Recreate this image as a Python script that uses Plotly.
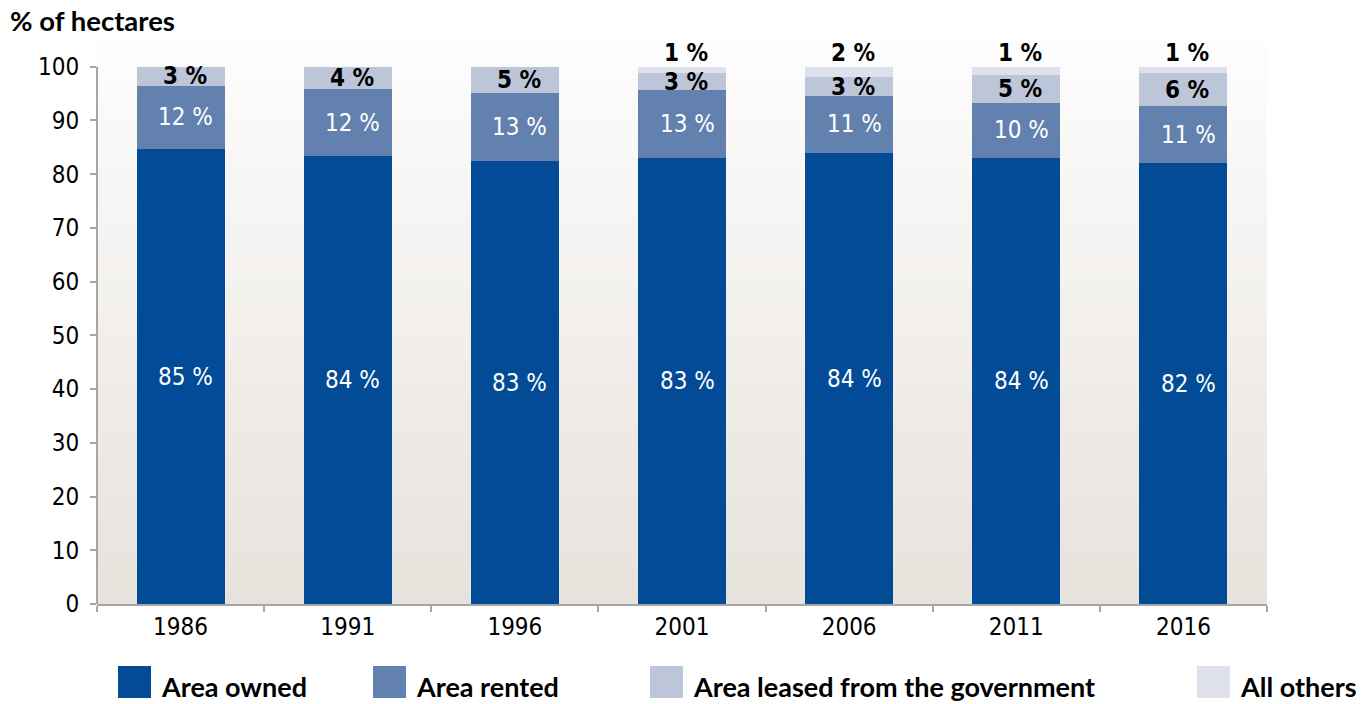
import plotly.graph_objects as go

years = ["1986", "1991", "1996", "2001", "2006", "2011", "2016"]
owned = [84.6, 83.4, 82.4, 83.1, 83.9, 83.1, 82.0]
rented = [11.9, 12.4, 12.7, 12.6, 10.7, 10.1, 10.75]
leased = [3.5, 4.2, 4.9, 3.05, 3.4, 5.25, 6.0]
others = [0.0, 0.0, 0.0, 1.25, 2.0, 1.55, 1.25]

owned_lbl = ["85 %", "84 %", "83 %", "83 %", "84 %", "84 %", "82 %"]
rented_lbl = ["12 %", "12 %", "13 %", "13 %", "11 %", "10 %", "11 %"]
leased_lbl = ["3 %", "4 %", "5 %", "3 %", "3 %", "5 %", "6 %"]
others_lbl = ["", "", "", "1 %", "2 %", "1 %", "1 %"]

series_names = ["Area owned", "Area rented", "Area leased from the government", "All others"]
colors = ["#034b97", "#6381ae", "#bcc6d8", "#dee1eb"]

NARROW = "DejaVu Sans Condensed, DejaVu Sans, sans-serif"
BOLDF = "Lato, Open Sans, sans-serif"

W, H = 1366, 704
ML, MR, MT, MB = 97, 99, 42, 100
PW, PH = W - ML - MR, H - MT - MB
YMAX = 104.6

def px2x(px):
    return (px - ML) / PW

def px2y(py):
    return (H - MB - py) / PH

fig = go.Figure()
for name, vals, col in zip(series_names, [owned, rented, leased, others], colors):
    fig.add_trace(go.Bar(x=years, y=vals, name=name, marker=dict(color=col, line=dict(width=0)),
                         showlegend=False, hoverinfo="skip"))

shapes = []
# gradient background
N = 60
top = (254, 253, 253)
bot = (230, 226, 220)
for i in range(N):
    t = (i + 0.5) / N
    c = tuple(int(round(top[k] + (bot[k] - top[k]) * t)) for k in range(3))
    shapes.append(dict(type="rect", xref="paper", yref="paper", x0=0, x1=1,
                       y0=1 - (i + 1) / N, y1=1 - i / N + 0.001, layer="below",
                       line=dict(width=0), fillcolor="rgb(%d,%d,%d)" % c))
# y axis line (0 to 100)
shapes.append(dict(type="line", xref="paper", yref="y", x0=0, x1=0, y0=0, y1=100,
                   line=dict(color="#a6a6a6", width=2), layer="above"))

LBL = 24
annotations = []
for i, y in enumerate(years):
    o, r, l = owned[i], rented[i], leased[i]
    annotations.append(dict(x=i, y=o / 2, text=owned_lbl[i], showarrow=False, xshift=5,
                            font=dict(family=NARROW, size=LBL, color="white")))
    annotations.append(dict(x=i, y=o + r / 2, text=rented_lbl[i], showarrow=False, xshift=5,
                            font=dict(family=NARROW, size=LBL, color="white")))
    annotations.append(dict(x=i, y=o + r + l / 2, text="<b>%s</b>" % leased_lbl[i], showarrow=False, xshift=4,
                            font=dict(family=NARROW, size=LBL, color="black")))
    if others_lbl[i]:
        annotations.append(dict(x=i, y=o + r + l + others[i], text="<b>%s</b>" % others_lbl[i],
                                showarrow=False, xshift=4, yshift=14,
                                font=dict(family=NARROW, size=LBL, color="black")))

# title
annotations.append(dict(xref="paper", yref="paper", x=px2x(8), y=px2y(20), xanchor="left",
                        yanchor="middle", showarrow=False, text="<b>% of hectares</b>",
                        font=dict(family=BOLDF, size=27.5, color="black")))

# legend
leg_x = [118, 373, 650, 1197]
for name, col, lx in zip(series_names, colors, leg_x):
    shapes.append(dict(type="rect", xref="paper", yref="paper", x0=px2x(lx), x1=px2x(lx + 33),
                       y0=px2y(698), y1=px2y(666), line=dict(width=0), fillcolor=col))
    annotations.append(dict(xref="paper", yref="paper", x=px2x(lx + 42), y=px2y(686),
                            xanchor="left", yanchor="middle", showarrow=False, borderpad=0,
                            text="<b>%s</b>" % name,
                            font=dict(family=BOLDF, size=27, color="black")))

fig.update_layout(
    width=W, height=H,
    margin=dict(l=ML, r=MR, t=MT, b=MB),
    barmode="stack", bargap=0.473,
    paper_bgcolor="white", plot_bgcolor="rgba(0,0,0,0)",
    shapes=shapes, annotations=annotations,
    xaxis=dict(type="category", range=[-0.5, 6.5], showline=True, linecolor="#a6a6a6", linewidth=2,
               ticks="outside", tickson="boundaries", ticklen=6, tickcolor="#a6a6a6", tickwidth=2,
               showgrid=False, tickfont=dict(family=NARROW, size=24, color="black"),
               tickangle=0, automargin=False, fixedrange=True),
    yaxis=dict(range=[0, YMAX], tickvals=list(range(0, 101, 10)), showline=False,
               ticks="outside", ticklen=6, tickcolor="#a6a6a6", tickwidth=2,
               showgrid=False, zeroline=False, ticklabelstandoff=6, automargin=False,
               tickfont=dict(family=NARROW, size=24, color="black"), fixedrange=True),
    showlegend=False,
)

fig.write_html("out.html", config={"displayModeBar": False},
               post_script="document.body.style.margin='0px';document.body.style.overflow='hidden';")
